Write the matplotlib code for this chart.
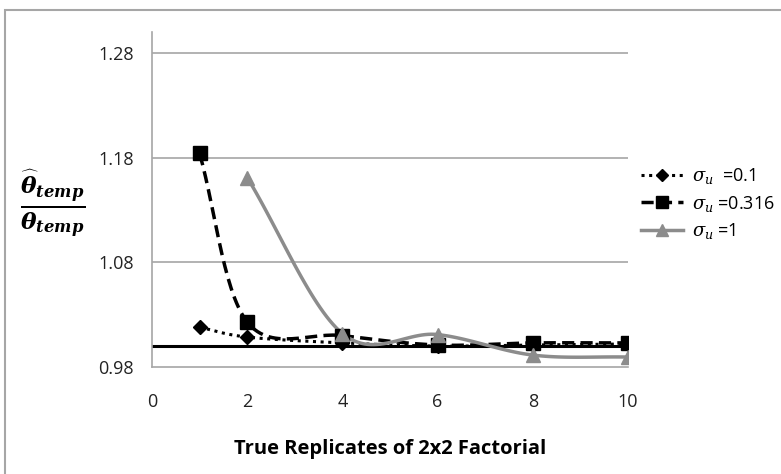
import numpy as np
import matplotlib
matplotlib.use("Agg")
import matplotlib.pyplot as plt
from matplotlib.patches import Rectangle
from matplotlib.lines import Line2D

plt.rcParams['font.family'] = ['Open Sans', 'DejaVu Sans']
plt.rcParams['mathtext.fontset'] = 'custom'
plt.rcParams['mathtext.rm'] = 'DejaVu Serif'
plt.rcParams['mathtext.it'] = 'DejaVu Serif:italic'
plt.rcParams['mathtext.bf'] = 'DejaVu Serif:bold:italic'

# Data
x_01 = [1, 2, 4, 6, 8, 10]
y_01 = [1.018, 1.0086, 1.003, 1.000, 1.001, 1.002]
x_0316 = [1, 2, 4, 6, 8, 10]
y_0316 = [1.184, 1.023, 1.010, 1.001, 1.003, 1.003]
x_1 = [2, 4, 6, 8, 10]
y_1 = [1.161, 1.012, 1.011, 0.9914, 0.9895]
labels = [r'$\sigma_u$  =0.1', r'$\sigma_u$ =0.316', r'$\sigma_u$ =1']
xticks = [0, 2, 4, 6, 8, 10]
yticks = [0.98, 1.08, 1.18, 1.28]
ref_line = 1.0


def smooth(xs, ys, n=30):
    """Catmull-Rom style smoothing, like Excel's smoothed lines."""
    xs = np.asarray(xs, float)
    ys = np.asarray(ys, float)
    px = np.concatenate([[2 * xs[0] - xs[1]], xs, [2 * xs[-1] - xs[-2]]])
    py = np.concatenate([[2 * ys[0] - ys[1]], ys, [2 * ys[-1] - ys[-2]]])
    ox, oy = [], []
    for i in range(1, len(px) - 2):
        t = np.linspace(0, 1, n, endpoint=False)
        p0, p1, p2, p3 = [np.array([px[j], py[j]]) for j in (i - 1, i, i + 1, i + 2)]
        t2, t3 = t * t, t * t * t
        pts = 0.5 * ((2 * p1)[:, None] + (-p0 + p2)[:, None] * t
                     + (2 * p0 - 5 * p1 + 4 * p2 - p3)[:, None] * t2
                     + (-p0 + 3 * p1 - 3 * p2 + p3)[:, None] * t3)
        ox.extend(pts[0]); oy.extend(pts[1])
    ox.append(xs[-1]); oy.append(ys[-1])
    return np.array(ox), np.array(oy)


fig = plt.figure(figsize=(7.81, 4.74), dpi=100)
ax = fig.add_axes([152 / 781, 1 - 367 / 474, 476 / 781, 335 / 474])

# outer frame
fig.patches.append(Rectangle((5 / 781, -0.1), 1.2, 1 - 10 / 474 + 0.1,
                             transform=fig.transFigure, fill=False,
                             edgecolor='#a6a6a6', linewidth=1.5))

ax.set_xlim(0, 10)
ax.set_ylim(0.98, 1.30)
ax.set_xticks(xticks)
ax.set_yticks(yticks)
ax.set_yticklabels([f'{v:.2f}' for v in yticks])
ax.tick_params(length=0, labelsize=13, colors='#222222')
ax.tick_params(axis='y', pad=13)
ax.tick_params(axis='x', pad=19)
for yv in yticks[1:]:
    ax.axhline(yv, color='#a6a6a6', lw=1.2, zorder=1)
for s in ['top', 'right']:
    ax.spines[s].set_visible(False)
for s in ['left', 'bottom']:
    ax.spines[s].set_color('#a6a6a6')
    ax.spines[s].set_linewidth(1.2)

ax.axhline(ref_line, color='black', lw=2.2, zorder=2)

sx, sy = smooth(x_01, y_01)
ax.plot(sx, sy, color='black', lw=2.2, ls=(0, (1, 1.5)), zorder=3)
ax.plot(x_01, y_01, ls='none', marker='D', ms=7, color='black', zorder=4)

sx, sy = smooth(x_0316, y_0316)
ax.plot(sx, sy, color='black', lw=2.5, ls=(0, (3.5, 1.8)), zorder=3)
ax.plot(x_0316, y_0316, ls='none', marker='s', ms=10, color='black', zorder=4)

sx, sy = smooth(x_1, y_1)
ax.plot(sx, sy, color='#8c8c8c', lw=2.5, zorder=3)
ax.plot(x_1, y_1, ls='none', marker='^', ms=10, color='#8c8c8c', zorder=4)

handles = [
    Line2D([], [], color='black', lw=2.2, ls=(0, (1, 1.5)), marker='D', ms=6),
    Line2D([], [], color='black', lw=2.5, ls=(0, (3.5, 1.8)), marker='s', ms=8),
    Line2D([], [], color='#8c8c8c', lw=2.5, marker='^', ms=8),
]
fig.legend(handles, labels, loc='upper left', bbox_to_anchor=(634 / 781, 1 - 159 / 474),
           frameon=False, fontsize=13, handlelength=2.3, labelspacing=0.42,
           handletextpad=0.5, borderaxespad=0)

ax.set_xlabel('True Replicates of 2x2 Factorial', fontsize=14.5, fontweight='bold',
              labelpad=20)

fig.text(53 / 781, 1 - 204 / 474,
         r'$\mathbf{\frac{\widehat{\theta}_{temp}}{\theta_{temp}}}$',
         fontsize=24, ha='center', va='center')

fig.savefig('out.png', dpi=100)
